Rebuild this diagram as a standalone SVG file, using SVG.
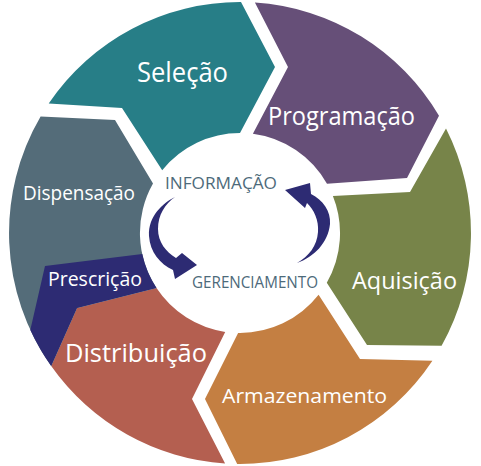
<svg xmlns="http://www.w3.org/2000/svg" width="481" height="466" viewBox="0 0 481 466">
<style>
.lbl{font-family:"Open Sans","Noto Sans","Liberation Sans",sans-serif;fill:#ffffff}
.ctr{font-family:"Open Sans","Noto Sans","Liberation Sans",sans-serif;fill:#4d6a7a;font-size:16px}
.arw{fill:#2d2b73}
</style>
<rect width="481" height="466" fill="#ffffff"/>
<g id="selecao">
<path d="M48.7,103.5 A231,231 0 0 1 241,2 L275,67 L240,133 A100,100 0 0 0 162.2,170.2 L122,108 Z" fill="#277e87"/>
<text class="lbl" x="137" y="82" font-size="27" textLength="91" lengthAdjust="spacingAndGlyphs">Seleção</text>
</g>
<g id="programacao">
<path d="M254.9,2.5 A231,231 0 0 1 439,115.8 L407,178 L327,183.8 A100,100 0 0 0 252.9,133.8 L288,67 Z" fill="#664f78"/>
<text class="lbl" x="268" y="125" font-size="25" textLength="147" lengthAdjust="spacingAndGlyphs">Programação</text>
</g>
<g id="aquisicao">
<path d="M446,128.5 A231,231 0 0 1 441.6,345.7 L367,345 L326.8,282.7 A100,100 0 0 0 332.9,195.9 L410,192 Z" fill="#778449"/>
<text class="lbl" x="352" y="289" font-size="24" textLength="105" lengthAdjust="spacingAndGlyphs">Aquisição</text>
</g>
<g id="armazenamento">
<path d="M432.4,360.8 A231,231 0 0 1 237.2,464 L205,399 L238.1,333 A100,100 0 0 0 318.6,294.8 L360,359 Z" fill="#c47f42"/>
<text class="lbl" x="222" y="403" font-size="20" textLength="165" lengthAdjust="spacingAndGlyphs">Armazenamento</text>
</g>
<g id="distribuicao">
<path d="M225.1,463.5 A231,231 0 0 1 51.2,366.1 L77,308 L156.5,288.1 A100,100 0 0 0 225.2,331.9 L192,399 Z" fill="#b45f50"/>
<text class="lbl" x="65" y="362" font-size="26" textLength="142" lengthAdjust="spacingAndGlyphs">Distribuição</text>
</g>
<g id="dispensacao">
<path d="M51.2,366.1 A231,231 0 0 1 40.6,116.5 L115,120 L153,183.6 A100,100 0 0 0 156.5,288.1 L77,308 Z" fill="#546c79"/>
<text class="lbl" x="23" y="200" font-size="20" textLength="112" lengthAdjust="spacingAndGlyphs">Dispensação</text>
</g>
<g id="prescricao">
<path d="M45,266 L142.3,254.1 A100,100 0 0 0 156.5,288.1 L77,308 L51.2,366.1 A231,231 0 0 1 30.3,329.9 Z" fill="#2d2b73"/>
<text class="lbl" x="48" y="286" font-size="20" textLength="94" lengthAdjust="spacingAndGlyphs">Prescrição</text>
</g>
<g id="informacao">
<text class="ctr" x="165" y="189" textLength="112" lengthAdjust="spacingAndGlyphs">INFORMAÇÃO</text>
</g>
<g id="gerenciamento">
<text class="ctr" x="192" y="288" textLength="126" lengthAdjust="spacingAndGlyphs">GERENCIAMENTO</text>
</g>
<g id="connectors">
<path class="arw" d="M175,197 C163,203 148,216 149,236 C150,252 160,264 173,270 L175,279 L197,265 L182,253 L176,258 C166,252 158,242 158,229 C158,215 165,204 175,197 Z"/>
<path class="arw" d="M297,263 C314,257 328,243 330,224 C331,211 323,200 311,194 L310,183 L285,190 L305,208 L307,203 C314,210 319,220 318,232 C317,246 309,256 297,263 Z"/>
</g>
</svg>
